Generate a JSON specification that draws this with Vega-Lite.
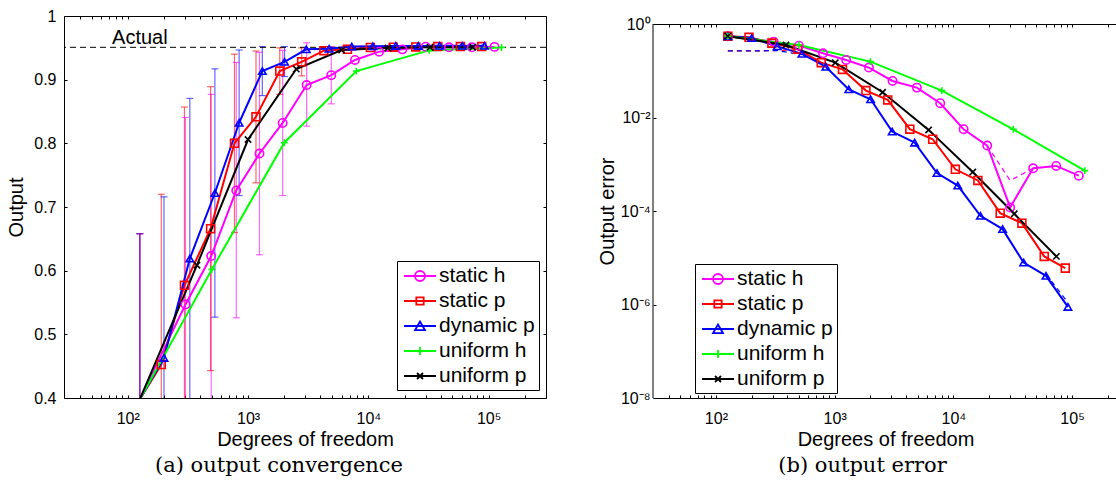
{
  "$schema": "https://vega.github.io/schema/vega-lite/v6.json",
  "padding": {"top": 8, "left": 6, "right": 0, "bottom": 0},
  "background": "white",
  "config": {
    "view": {"stroke": null},
    "axis": {"domainColor": "black", "tickColor": "black", "labelColor": "black", "titleColor": "black", "labelFont": "Liberation Sans", "titleFont": "Liberation Sans", "labelFontSize": 16, "titleFontSize": 20, "titleFontWeight": "normal", "grid": false, "labelOverlap": false, "labelFlush": false, "labelBound": false, "tickSize": -3, "domainWidth": 1, "tickWidth": 1},
    "legend": {"labelFont": "Liberation Sans", "labelFontSize": 21, "labelColor": "black"}
  },
  "datasets": {
    "conv": [
      {"series": "static h", "dof": 126, "value": 0.398}, {"series": "static h", "dof": 302, "value": 0.547}, {"series": "static h", "dof": 494, "value": 0.623}, {"series": "static h", "dof": 798, "value": 0.726}, {"series": "static h", "dof": 1245, "value": 0.784}, {"series": "static h", "dof": 1940, "value": 0.832}, {"series": "static h", "dof": 3070, "value": 0.8915}, {"series": "static h", "dof": 4920, "value": 0.907}, {"series": "static h", "dof": 7740, "value": 0.931}, {"series": "static h", "dof": 12300, "value": 0.944}, {"series": "static h", "dof": 19200, "value": 0.9476}, {"series": "static h", "dof": 30000, "value": 0.9518}, {"series": "static h", "dof": 46800, "value": 0.9508}, {"series": "static h", "dof": 72500, "value": 0.9508}, {"series": "static h", "dof": 112000, "value": 0.9515},
      {"series": "static p", "dof": 126, "value": 0.398}, {"series": "static p", "dof": 190, "value": 0.4525}, {"series": "static p", "dof": 296, "value": 0.577}, {"series": "static p", "dof": 488, "value": 0.666}, {"series": "static p", "dof": 771, "value": 0.8}, {"series": "static p", "dof": 1164, "value": 0.8417}, {"series": "static p", "dof": 1835, "value": 0.9135}, {"series": "static p", "dof": 2790, "value": 0.928}, {"series": "static p", "dof": 4270, "value": 0.9455}, {"series": "static p", "dof": 6700, "value": 0.9476}, {"series": "static p", "dof": 10400, "value": 0.9505}, {"series": "static p", "dof": 16100, "value": 0.951}, {"series": "static p", "dof": 24800, "value": 0.9515}, {"series": "static p", "dof": 37800, "value": 0.952}, {"series": "static p", "dof": 58300, "value": 0.952}, {"series": "static p", "dof": 87700, "value": 0.952},
      {"series": "dynamic p", "dof": 126, "value": 0.398}, {"series": "dynamic p", "dof": 200, "value": 0.463}, {"series": "dynamic p", "dof": 328, "value": 0.619}, {"series": "dynamic p", "dof": 530, "value": 0.722}, {"series": "dynamic p", "dof": 843, "value": 0.8323}, {"series": "dynamic p", "dof": 1315, "value": 0.9135}, {"series": "dynamic p", "dof": 2010, "value": 0.928}, {"series": "dynamic p", "dof": 3050, "value": 0.9476}, {"series": "dynamic p", "dof": 4720, "value": 0.9485}, {"series": "dynamic p", "dof": 7280, "value": 0.952}, {"series": "dynamic p", "dof": 10900, "value": 0.9525}, {"series": "dynamic p", "dof": 16900, "value": 0.953}, {"series": "dynamic p", "dof": 26000, "value": 0.953}, {"series": "dynamic p", "dof": 39100, "value": 0.9532}, {"series": "dynamic p", "dof": 60300, "value": 0.9532}, {"series": "dynamic p", "dof": 92300, "value": 0.9532},
      {"series": "uniform h", "dof": 126, "value": 0.398}, {"series": "uniform h", "dof": 500, "value": 0.602}, {"series": "uniform h", "dof": 2000, "value": 0.801}, {"series": "uniform h", "dof": 7950, "value": 0.9135}, {"series": "uniform h", "dof": 32000, "value": 0.946}, {"series": "uniform h", "dof": 128000, "value": 0.9505},
      {"series": "uniform p", "dof": 126, "value": 0.398}, {"series": "uniform p", "dof": 376, "value": 0.6086}, {"series": "uniform p", "dof": 1000, "value": 0.806}, {"series": "uniform p", "dof": 2518, "value": 0.9167}, {"series": "uniform p", "dof": 6000, "value": 0.9466}, {"series": "uniform p", "dof": 14560, "value": 0.9497}, {"series": "uniform p", "dof": 32600, "value": 0.951}, {"series": "uniform p", "dof": 73800, "value": 0.951}
    ],
    "bars": [
      {"series": "static h", "dof": 126, "lo": 0.14, "hi": 0.658}, {"series": "static h", "dof": 302, "lo": 0.253, "hi": 0.8407}, {"series": "static h", "dof": 494, "lo": 0.369, "hi": 0.877}, {"series": "static h", "dof": 798, "lo": 0.526, "hi": 0.927}, {"series": "static h", "dof": 1245, "lo": 0.625, "hi": 0.943}, {"series": "static h", "dof": 1940, "lo": 0.718, "hi": 0.946}, {"series": "static h", "dof": 3070, "lo": 0.827, "hi": 0.958}, {"series": "static h", "dof": 4920, "lo": 0.862, "hi": 0.952},
      {"series": "static p", "dof": 126, "lo": 0.14, "hi": 0.658}, {"series": "static p", "dof": 190, "lo": 0.185, "hi": 0.72}, {"series": "static p", "dof": 296, "lo": 0.297, "hi": 0.857}, {"series": "static p", "dof": 488, "lo": 0.443, "hi": 0.889}, {"series": "static p", "dof": 771, "lo": 0.66, "hi": 0.94}, {"series": "static p", "dof": 1164, "lo": 0.738, "hi": 0.945}, {"series": "static p", "dof": 1835, "lo": 0.877, "hi": 0.95}, {"series": "static p", "dof": 2790, "lo": 0.906, "hi": 0.95},
      {"series": "dynamic p", "dof": 126, "lo": 0.14, "hi": 0.658}, {"series": "dynamic p", "dof": 200, "lo": 0.21, "hi": 0.716}, {"series": "dynamic p", "dof": 328, "lo": 0.367, "hi": 0.8706}, {"series": "dynamic p", "dof": 530, "lo": 0.527, "hi": 0.917}, {"series": "dynamic p", "dof": 843, "lo": 0.718, "hi": 0.9466}, {"series": "dynamic p", "dof": 1315, "lo": 0.875, "hi": 0.952}, {"series": "dynamic p", "dof": 2010, "lo": 0.905, "hi": 0.952}
    ],
    "err": [
      {"series": "static h", "dof": 126, "error": 0.55}, {"series": "static h", "dof": 306, "error": 0.42}, {"series": "static h", "dof": 500, "error": 0.344}, {"series": "static h", "dof": 798, "error": 0.236}, {"series": "static h", "dof": 1250, "error": 0.17}, {"series": "static h", "dof": 1945, "error": 0.117}, {"series": "static h", "dof": 3075, "error": 0.0605}, {"series": "static h", "dof": 4925, "error": 0.0436}, {"series": "static h", "dof": 7750, "error": 0.0202}, {"series": "static h", "dof": 12200, "error": 0.00561}, {"series": "static h", "dof": 19300, "error": 0.00251}, {"series": "static h", "dof": 30100, "error": 0.000119}, {"series": "static h", "dof": 47000, "error": 0.00082}, {"series": "static h", "dof": 73500, "error": 0.00092}, {"series": "static h", "dof": 114000, "error": 0.00057},
      {"series": "static p", "dof": 126, "error": 0.55}, {"series": "static p", "dof": 190, "error": 0.52}, {"series": "static p", "dof": 296, "error": 0.39}, {"series": "static p", "dof": 488, "error": 0.29}, {"series": "static p", "dof": 771, "error": 0.149}, {"series": "static p", "dof": 1164, "error": 0.107}, {"series": "static p", "dof": 1835, "error": 0.0376}, {"series": "static p", "dof": 2800, "error": 0.0238}, {"series": "static p", "dof": 4300, "error": 0.00562}, {"series": "static p", "dof": 6700, "error": 0.00343}, {"series": "static p", "dof": 10400, "error": 0.00078}, {"series": "static p", "dof": 16100, "error": 0.00045}, {"series": "static p", "dof": 24800, "error": 0.00009}, {"series": "static p", "dof": 37800, "error": 0.000055}, {"series": "static p", "dof": 58300, "error": 0.0000107}, {"series": "static p", "dof": 87700, "error": 0.000006},
      {"series": "dynamic p", "dof": 126, "error": 0.55}, {"series": "dynamic p", "dof": 200, "error": 0.5}, {"series": "dynamic p", "dof": 328, "error": 0.333}, {"series": "dynamic p", "dof": 530, "error": 0.23}, {"series": "dynamic p", "dof": 843, "error": 0.122}, {"series": "dynamic p", "dof": 1315, "error": 0.04}, {"series": "dynamic p", "dof": 2010, "error": 0.0246}, {"series": "dynamic p", "dof": 3050, "error": 0.005}, {"series": "dynamic p", "dof": 4720, "error": 0.0029}, {"series": "dynamic p", "dof": 7280, "error": 0.00065}, {"series": "dynamic p", "dof": 10900, "error": 0.00035}, {"series": "dynamic p", "dof": 16900, "error": 0.000079}, {"series": "dynamic p", "dof": 26000, "error": 0.000041}, {"series": "dynamic p", "dof": 39100, "error": 0.0000079}, {"series": "dynamic p", "dof": 60300, "error": 0.0000041}, {"series": "dynamic p", "dof": 92300, "error": 0.00000089},
      {"series": "uniform h", "dof": 126, "error": 0.55}, {"series": "uniform h", "dof": 500, "error": 0.356}, {"series": "uniform h", "dof": 2000, "error": 0.157}, {"series": "uniform h", "dof": 8000, "error": 0.0376}, {"series": "uniform h", "dof": 32000, "error": 0.0056}, {"series": "uniform h", "dof": 128000, "error": 0.00073},
      {"series": "uniform p", "dof": 126, "error": 0.55}, {"series": "uniform p", "dof": 389, "error": 0.356}, {"series": "uniform p", "dof": 1012, "error": 0.149}, {"series": "uniform p", "dof": 2535, "error": 0.0347}, {"series": "uniform p", "dof": 6190, "error": 0.00543}, {"series": "uniform p", "dof": 14560, "error": 0.00068}, {"series": "uniform p", "dof": 32600, "error": 0.000087}, {"series": "uniform p", "dof": 73800, "error": 0.0000107}
    ],
    "est": [
      {"series": "static p", "seg": "a", "dof": 126, "error": 0.265}, {"series": "static p", "seg": "a", "dof": 190, "error": 0.265}, {"series": "static p", "seg": "a", "dof": 296, "error": 0.27}, {"series": "static p", "seg": "a", "dof": 488, "error": 0.28},
      {"series": "dynamic p", "seg": "b", "dof": 126, "error": 0.265}, {"series": "dynamic p", "seg": "b", "dof": 200, "error": 0.265}, {"series": "dynamic p", "seg": "b", "dof": 328, "error": 0.27}, {"series": "dynamic p", "seg": "b", "dof": 530, "error": 0.22},
      {"series": "static h", "seg": "c", "dof": 19300, "error": 0.00251}, {"series": "static h", "seg": "c", "dof": 30100, "error": 0.00045}, {"series": "static h", "seg": "c", "dof": 47000, "error": 0.00082},
      {"series": "dynamic p", "seg": "d", "dof": 60300, "error": 0.0000045}, {"series": "dynamic p", "seg": "d", "dof": 92300, "error": 0.0000011}
    ]
  },
  "resolve": {"scale": {"color": "independent", "stroke": "independent", "fill": "independent", "shape": "independent", "size": "independent"}, "legend": {"color": "independent"}},
  "spacing": 50,
  "hconcat": [
    {
      "width": 482,
      "height": 382,
      "title": {"text": "(a) output convergence", "orient": "bottom", "frame": "group", "anchor": "middle", "dx": -26, "offset": 6, "font": "DejaVu Serif", "fontSize": 21, "fontWeight": "normal", "color": "black"},
      "resolve": {"axis": {"x": "independent", "y": "independent"}},
      "layer": [
        {
          "data": {"name": "bars"},
          "mark": {"type": "rule", "clip": true, "strokeWidth": 1.2, "opacity": 0.6},
          "encoding": {
            "x": {"field": "dof", "type": "quantitative", "scale": {"type": "log", "domain": [29.5, 300000], "nice": false},
                  "axis": {"orient": "top", "labels": false, "title": null, "values": [40,50,60,70,80,90,100,200,300,400,500,600,700,800,900,1000,2000,3000,4000,5000,6000,7000,8000,9000,10000,20000,30000,40000,50000,60000,70000,80000,90000,100000,200000]}},
            "y": {"field": "lo", "type": "quantitative", "scale": {"domain": [0.4, 1], "nice": false, "zero": false},
                  "axis": {"orient": "right", "labels": false, "title": null, "values": [0.4,0.5,0.6,0.7,0.8,0.9,1]}},
            "y2": {"field": "hi"},
            "stroke": {"field": "series", "type": "nominal", "scale": {"domain": ["uniform p","uniform h","dynamic p","static p","static h"], "range": ["#000000","#00ff00","#0000ff","#ff0000","#ff00ff"]}, "legend": null}
          }
        },
        {
          "data": {"name": "bars"},
          "mark": {"type": "tick", "orient": "horizontal", "clip": true, "size": 7, "thickness": 1.2, "opacity": 0.6},
          "encoding": {
            "x": {"field": "dof", "type": "quantitative", "scale": {"type": "log", "domain": [29.5, 300000], "nice": false}, "axis": null},
            "y": {"field": "hi", "type": "quantitative", "scale": {"domain": [0.4, 1], "nice": false, "zero": false}, "axis": null},
            "fill": {"field": "series", "type": "nominal", "scale": {"domain": ["uniform p","uniform h","dynamic p","static p","static h"], "range": ["#000000","#00ff00","#0000ff","#ff0000","#ff00ff"]}, "legend": null}
          }
        },
        {
          "data": {"name": "bars"},
          "mark": {"type": "tick", "orient": "horizontal", "clip": true, "size": 7, "thickness": 1.2, "opacity": 0.6},
          "encoding": {
            "x": {"field": "dof", "type": "quantitative", "scale": {"type": "log", "domain": [29.5, 300000], "nice": false}, "axis": null},
            "y": {"field": "lo", "type": "quantitative", "scale": {"domain": [0.4, 1], "nice": false, "zero": false}, "axis": null},
            "fill": {"field": "series", "type": "nominal", "scale": {"domain": ["uniform p","uniform h","dynamic p","static p","static h"], "range": ["#000000","#00ff00","#0000ff","#ff0000","#ff00ff"]}, "legend": null}
          }
        },
        {
          "data": {"values": [{"label": "Actual"}]},
          "mark": {"type": "rule", "strokeDash": [6, 4], "color": "black", "strokeWidth": 1},
          "encoding": {
            "y": {"datum": 0.9508, "type": "quantitative", "scale": {"domain": [0.4, 1], "nice": false, "zero": false}, "axis": null}
          }
        },
        {
          "data": {"values": [{"label": "Actual"}]},
          "mark": {"type": "text", "align": "left", "baseline": "alphabetic", "font": "Liberation Sans", "fontSize": 20, "color": "black"},
          "encoding": {
            "x": {"datum": 74, "type": "quantitative", "scale": {"type": "log", "domain": [29.5, 300000], "nice": false}, "axis": null},
            "y": {"datum": 0.9562, "type": "quantitative", "scale": {"domain": [0.4, 1], "nice": false, "zero": false}, "axis": null},
            "text": {"field": "label"}
          }
        },
        {
          "data": {"name": "conv"},
          "mark": {"type": "line", "clip": true, "strokeWidth": 2},
          "encoding": {
            "x": {"field": "dof", "type": "quantitative", "scale": {"type": "log", "domain": [29.5, 300000], "nice": false},
                  "axis": {"orient": "bottom", "title": "Degrees of freedom", "titlePadding": 3, "labelPadding": 15, "values": [40,50,60,70,80,90,100,200,300,400,500,600,700,800,900,1000,2000,3000,4000,5000,6000,7000,8000,9000,10000,20000,30000,40000,50000,60000,70000,80000,90000,100000,200000],
                           "labelExpr": "datum.value == 100 ? '10²' : datum.value == 1000 ? '10³' : datum.value == 10000 ? '10⁴' : datum.value == 100000 ? '10⁵' : ''"}},
            "y": {"field": "value", "type": "quantitative", "scale": {"domain": [0.4, 1], "nice": false, "zero": false},
                  "axis": {"orient": "left", "title": "Output", "titlePadding": 7, "labelPadding": 11, "values": [0.4,0.5,0.6,0.7,0.8,0.9,1],
                           "labelExpr": "datum.value == 1 ? '1' : format(datum.value, '.1f')"}},
            "color": {"field": "series", "type": "nominal", "scale": {"domain": ["static h","static p","dynamic p","uniform h","uniform p"], "range": ["#ff00ff","#ff0000","#0000ff","#00ff00","#000000"]},
                      "legend": {"title": null, "orient": "none", "legendX": 333, "legendY": 245, "direction": "vertical", "symbolSize": 400, "symbolStrokeWidth": 1.8, "symbolOffset": 8, "labelOffset": 8, "padding": 4, "rowPadding": 4, "strokeColor": "black", "fillColor": "white",
                                 "encode": {"symbols": {"update": {"fill": {"value": "transparent"}, "shape": {"signal": "datum.value === 'static h' ? 'M-1.6,0H1.6M0.5,0A0.5,0.5,0,1,1,-0.5,0A0.5,0.5,0,1,1,0.5,0' : datum.value === 'static p' ? 'M-1.6,0H1.6M-0.37,-0.37H0.37V0.37H-0.37Z' : datum.value === 'dynamic p' ? 'M-1.6,0H1.6M0,-0.45L0.5,0.42H-0.5Z' : datum.value === 'uniform h' ? 'M-1.6,0H1.6M0,-0.4V0.4' : 'M-1.6,0H1.6M-0.3,-0.3L0.3,0.3M-0.3,0.3L0.3,-0.3'"}}}}}}
          }
        },
        {
          "data": {"name": "conv"},
          "transform": [{"filter": "datum.value >= 0.4"}],
          "mark": {"type": "point", "filled": false, "clip": true, "strokeWidth": 1.6, "opacity": 1},
          "encoding": {
            "x": {"field": "dof", "type": "quantitative", "scale": {"type": "log", "domain": [29.5, 300000], "nice": false}, "axis": null},
            "y": {"field": "value", "type": "quantitative", "scale": {"domain": [0.4, 1], "nice": false, "zero": false}, "axis": null},
            "stroke": {"field": "series", "type": "nominal", "scale": {"domain": ["uniform p","uniform h","dynamic p","static p","static h"], "range": ["#000000","#00ff00","#0000ff","#ff0000","#ff00ff"]}, "legend": null},
            "shape": {"field": "series", "type": "nominal", "scale": {"domain": ["uniform p","uniform h","dynamic p","static p","static h"], "range": ["M-1,-1L1,1M-1,1L1,-1","M-1,0H1M0,-1V1","triangle-up","square","circle"]}, "legend": null},
            "size": {"field": "series", "type": "nominal", "scale": {"domain": ["uniform p","uniform h","dynamic p","static p","static h"], "range": [40, 70, 110, 56, 90]}, "legend": null}
          }
        }
      ]
    },
    {
      "width": 465,
      "height": 382,
      "title": {"text": "(b) output error", "orient": "bottom", "frame": "group", "anchor": "middle", "dx": -23, "offset": 6, "font": "DejaVu Serif", "fontSize": 21, "fontWeight": "normal", "color": "black"},
      "resolve": {"axis": {"x": "independent", "y": "independent"}},
      "layer": [
        {
          "data": {"values": [{"label": "frame"}]},
          "mark": {"type": "rule", "color": "black", "strokeWidth": 1},
          "encoding": {
            "x": {"datum": 29.5, "type": "quantitative", "scale": {"type": "log", "domain": [29.5, 243800], "nice": false},
                  "axis": {"orient": "top", "offset": -8, "labels": false, "title": null, "values": [40,50,60,70,80,90,100,200,300,400,500,600,700,800,900,1000,2000,3000,4000,5000,6000,7000,8000,9000,10000,20000,30000,40000,50000,60000,70000,80000,90000,100000,200000]}},
            "y": {"datum": 1e-8, "type": "quantitative", "scale": {"type": "log", "domain": [1e-8, 1.4833], "nice": false}, "axis": null},
            "y2": {"datum": 1}
          }
        },
        {
          "data": {"name": "est"},
          "mark": {"type": "line", "clip": true, "strokeWidth": 1.2, "strokeDash": [5, 4]},
          "encoding": {
            "x": {"field": "dof", "type": "quantitative", "scale": {"type": "log", "domain": [29.5, 243800], "nice": false}, "axis": null},
            "y": {"field": "error", "type": "quantitative", "scale": {"type": "log", "domain": [1e-8, 1.4833], "nice": false}, "axis": null},
            "detail": {"field": "seg"},
            "stroke": {"field": "series", "type": "nominal", "scale": {"domain": ["uniform p","uniform h","dynamic p","static p","static h"], "range": ["#000000","#00ff00","#0000ff","#ff0000","#ff00ff"]}, "legend": null}
          }
        },
        {
          "data": {"name": "err"},
          "mark": {"type": "line", "clip": true, "strokeWidth": 2},
          "encoding": {
            "x": {"field": "dof", "type": "quantitative", "scale": {"type": "log", "domain": [29.5, 243800], "nice": false},
                  "axis": {"orient": "bottom", "title": "Degrees of freedom", "titlePadding": 3, "labelPadding": 15, "values": [40,50,60,70,80,90,100,200,300,400,500,600,700,800,900,1000,2000,3000,4000,5000,6000,7000,8000,9000,10000,20000,30000,40000,50000,60000,70000,80000,90000,100000,200000],
                           "labelExpr": "datum.value == 100 ? '10²' : datum.value == 1000 ? '10³' : datum.value == 10000 ? '10⁴' : datum.value == 100000 ? '10⁵' : ''"}},
            "y": {"field": "error", "type": "quantitative", "scale": {"type": "log", "domain": [1e-8, 1.4833], "nice": false},
                  "axis": {"orient": "left", "domain": false, "title": "Output error", "titleY": 195, "titlePadding": 3, "labelPadding": 6, "values": [1e-8, 1e-6, 1e-4, 1e-2, 1],
                           "labelExpr": "datum.value >= 1 ? '10⁰' : datum.value >= 0.01 ? '10⁻²' : datum.value >= 0.0001 ? '10⁻⁴' : datum.value >= 0.000001 ? '10⁻⁶' : '10⁻⁸'"}},
            "color": {"field": "series", "type": "nominal", "scale": {"domain": ["static h","static p","dynamic p","uniform h","uniform p"], "range": ["#ff00ff","#ff0000","#0000ff","#00ff00","#000000"]},
                      "legend": {"title": null, "orient": "none", "legendX": 42, "legendY": 248, "direction": "vertical", "symbolSize": 400, "symbolStrokeWidth": 1.8, "symbolOffset": 8, "labelOffset": 8, "padding": 4, "rowPadding": 4, "strokeColor": "black", "fillColor": "white",
                                 "encode": {"symbols": {"update": {"fill": {"value": "transparent"}, "shape": {"signal": "datum.value === 'static h' ? 'M-1.6,0H1.6M0.5,0A0.5,0.5,0,1,1,-0.5,0A0.5,0.5,0,1,1,0.5,0' : datum.value === 'static p' ? 'M-1.6,0H1.6M-0.37,-0.37H0.37V0.37H-0.37Z' : datum.value === 'dynamic p' ? 'M-1.6,0H1.6M0,-0.45L0.5,0.42H-0.5Z' : datum.value === 'uniform h' ? 'M-1.6,0H1.6M0,-0.4V0.4' : 'M-1.6,0H1.6M-0.3,-0.3L0.3,0.3M-0.3,0.3L0.3,-0.3'"}}}}}}
          }
        },
        {
          "data": {"name": "err"},
          "mark": {"type": "point", "filled": false, "clip": true, "strokeWidth": 1.6, "opacity": 1},
          "encoding": {
            "x": {"field": "dof", "type": "quantitative", "scale": {"type": "log", "domain": [29.5, 243800], "nice": false}, "axis": null},
            "y": {"field": "error", "type": "quantitative", "scale": {"type": "log", "domain": [1e-8, 1.4833], "nice": false}, "axis": null},
            "stroke": {"field": "series", "type": "nominal", "scale": {"domain": ["uniform p","uniform h","dynamic p","static p","static h"], "range": ["#000000","#00ff00","#0000ff","#ff0000","#ff00ff"]}, "legend": null},
            "shape": {"field": "series", "type": "nominal", "scale": {"domain": ["uniform p","uniform h","dynamic p","static p","static h"], "range": ["M-1,-1L1,1M-1,1L1,-1","M-1,0H1M0,-1V1","triangle-up","square","circle"]}, "legend": null},
            "size": {"field": "series", "type": "nominal", "scale": {"domain": ["uniform p","uniform h","dynamic p","static p","static h"], "range": [40, 70, 110, 56, 90]}, "legend": null}
          }
        }
      ]
    }
  ]
}
